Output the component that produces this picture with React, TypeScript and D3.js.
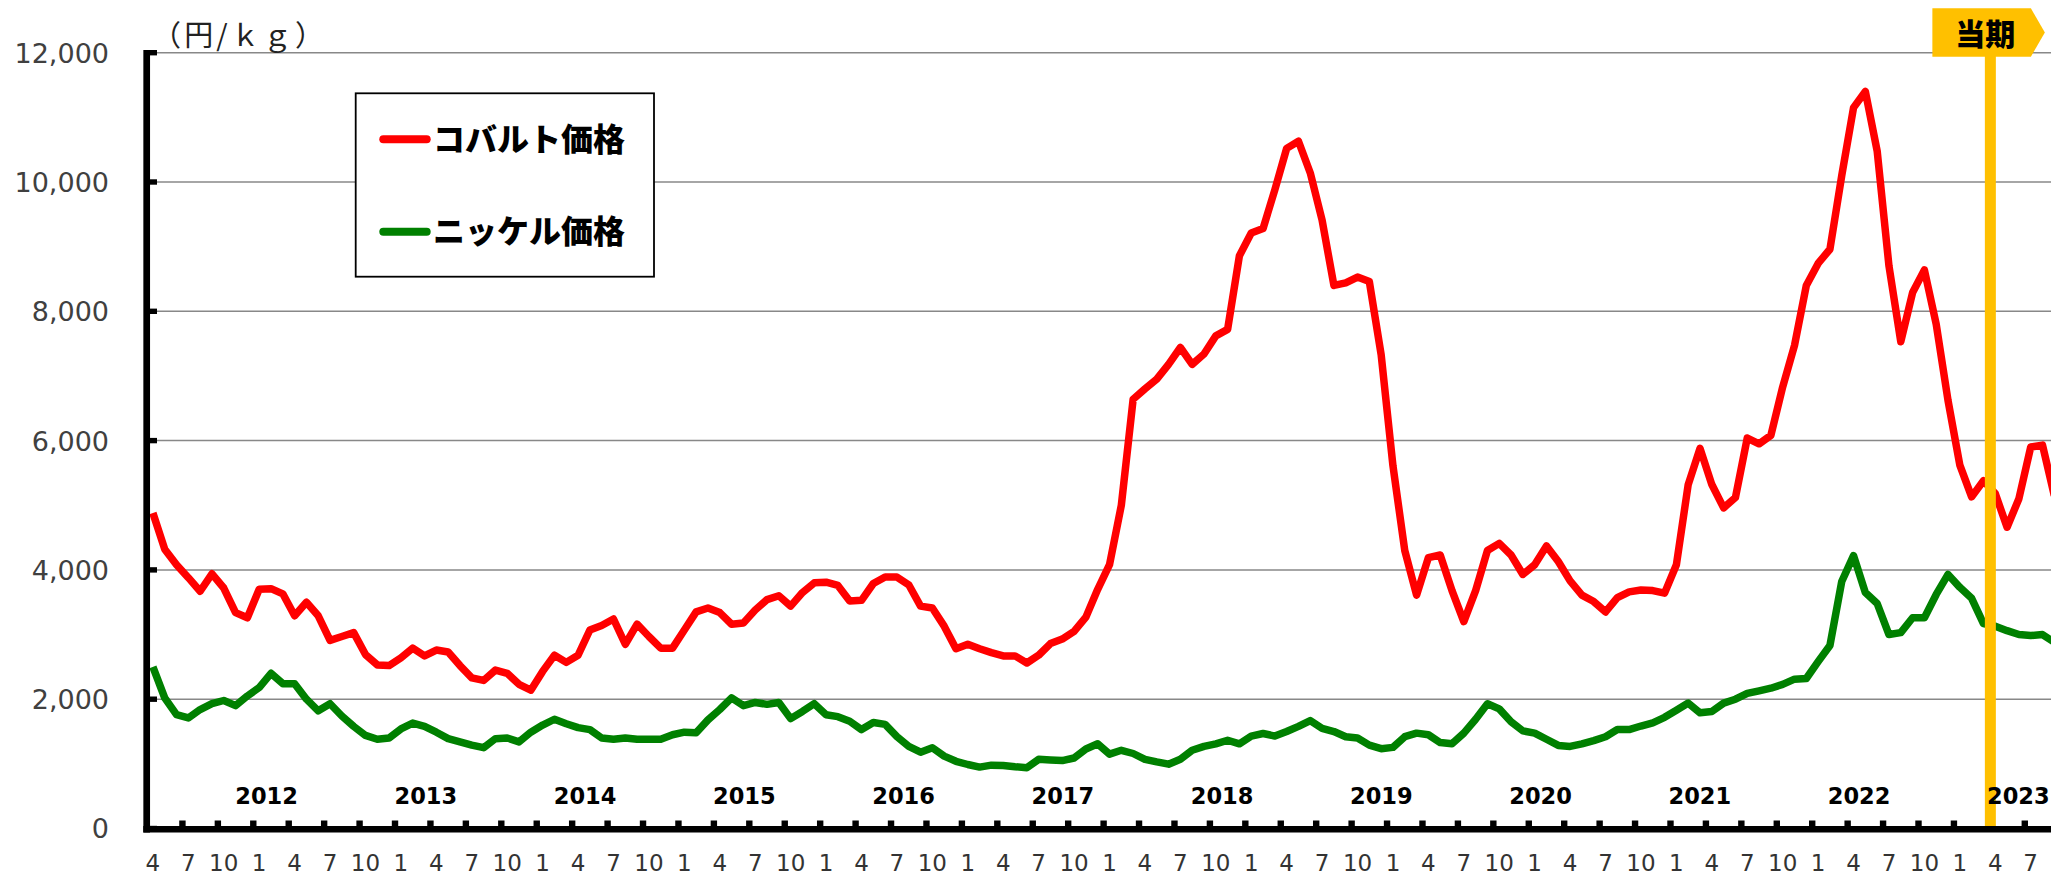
import React from "react";
import * as d3 from "d3";

// monthly prices (yen/kg), first point = April, 162 months
const cobalt = [
  4880, 4320, 4080, 3880, 3670, 3940, 3720, 3340, 3260, 3700, 3710, 3630,
  3290, 3500, 3290, 2910, 2970, 3030, 2690, 2530, 2520, 2640, 2790, 2670,
  2760, 2730, 2520, 2330, 2290, 2450, 2400, 2230, 2140, 2430, 2680, 2570,
  2680, 3070, 3140, 3240, 2850, 3160, 2970, 2790, 2790, 3070, 3350, 3410,
  3340, 3160, 3180, 3380, 3540, 3600, 3440, 3650, 3800, 3810, 3760, 3520,
  3530, 3790, 3890, 3890, 3770, 3440, 3410, 3130, 2780, 2850, 2780, 2720,
  2670, 2670, 2560, 2680, 2860, 2930, 3050, 3270, 3700, 4080, 5000, 6640,
  6800, 6950, 7180, 7440, 7180, 7340, 7620, 7720, 8860, 9210, 9280, 9880,
  10520, 10630, 10140, 9410, 8400, 8440, 8530, 8460, 7330, 5610, 4300, 3610,
  4190, 4230, 3680, 3200, 3680, 4300, 4410, 4230, 3930, 4080, 4370, 4130,
  3830, 3610, 3510, 3350, 3570, 3660, 3690, 3680, 3640, 4080, 5320, 5880,
  5320, 4960, 5120, 6040, 5950, 6080, 6830, 7470, 8400, 8740, 8960, 10100,
  11150, 11400, 10480, 8700, 7530, 8290, 8640, 7800, 6620, 5620, 5130, 5380,
  5180, 4660, 5100, 5900, 5930, 5150,
];

const nickel = [
  2500, 2020, 1760, 1710, 1840, 1930, 1980, 1900, 2050, 2180, 2400, 2240,
  2240, 2000, 1820, 1930, 1740, 1580, 1440, 1380, 1400, 1540, 1630, 1580,
  1490, 1390, 1340, 1290, 1250, 1390, 1400, 1340, 1490, 1600, 1690, 1620,
  1560, 1530, 1400, 1380, 1400, 1380, 1380, 1380, 1450, 1490, 1480, 1680,
  1840, 2020, 1900, 1950, 1920, 1950, 1700, 1810, 1930, 1760, 1730, 1660,
  1530, 1640, 1610, 1420, 1270, 1180, 1250, 1120, 1040, 990, 950, 980,
  975, 955, 940, 1070, 1060, 1050, 1090, 1230, 1310, 1150, 1210, 1160,
  1070, 1030, 995, 1070, 1210, 1270, 1310, 1365, 1310, 1430, 1470, 1430,
  1500, 1580, 1670, 1550, 1500, 1420, 1400, 1290, 1235, 1255, 1420, 1475,
  1450, 1330, 1310, 1475, 1690, 1930, 1850, 1650, 1510, 1475, 1380, 1285,
  1270, 1310, 1360, 1420, 1530, 1530, 1585, 1635, 1720, 1830, 1940, 1790,
  1810, 1940, 2000, 2090, 2130, 2170, 2230, 2310, 2320, 2580, 2830, 3820,
  4220, 3650, 3480, 3000, 3030, 3260, 3260, 3620, 3930, 3730, 3560, 3170,
  3130, 3060, 3000, 2985, 3000, 2880,
];

const months = d3.range(cobalt.length).map((i) => ((3 + i) % 12) + 1);
const yearLabels = [2012, 2013, 2014, 2015, 2016, 2017, 2018, 2019, 2020, 2021, 2022, 2023];
const yTicks = [0, 2000, 4000, 6000, 8000, 10000, 12000];
const currentIndex = 156; // 当期 marker sits at the start of this month
const legendItems = [
  { name: "コバルト価格", color: "#ff0000" },
  { name: "ニッケル価格", color: "#008000" },
];

const W = 2051;
const H = 873;

export default function App() {
  const x = d3.scaleLinear().domain([0, 162]).range([147, 147 + 162 * 11.81]);
  const y = d3.scaleLinear().domain([0, 12000]).range([828.5, 52.7]);
  const yearX = d3.scaleLinear().domain([2012, 2023]).range([266.6, 2018.3]);

  const line = d3
    .line<number>()
    .x((_, i) => x(i + 0.5))
    .y((d) => y(d));

  const tickIdx = months.map((_, i) => i).filter((i) => i % 3 === 0);
  const font = "'DejaVu Sans', Verdana, sans-serif";
  const jp = "'Noto Sans CJK JP', sans-serif";

  return (
    <svg
      width={W}
      height={H}
      style={{ position: "absolute", left: 0, top: 0, background: "#fff" }}
    >
      <rect width={W} height={H} fill="#fff" />

      {/* gridlines */}
      {yTicks.slice(1).map((t) => (
        <line key={t} x1={147} x2={W} y1={y(t)} y2={y(t)} stroke="#888" strokeWidth={1.5} />
      ))}

      {/* y labels */}
      {yTicks.map((t) => (
        <text
          key={t}
          x={109}
          y={y(t) + 9.9}
          textAnchor="end"
          fontFamily={font}
          fontSize={27}
          fill="#404040"
        >
          {d3.format(",")(t)}
        </text>
      ))}

      <text x={152} y={46} fontFamily={jp} fontSize={29} fill="#222" textLength={172} lengthAdjust="spacing">
        （円/ｋｇ）
      </text>

      {/* series */}
      <path d={line(nickel) || ""} fill="none" stroke="#008000" strokeWidth={7.5} strokeLinejoin="round" />
      <path d={line(cobalt) || ""} fill="none" stroke="#ff0000" strokeWidth={7.5} strokeLinejoin="round" />

      {/* axes */}
      <line x1={146.7} x2={146.7} y1={50} y2={832.5} stroke="#000" strokeWidth={6.7} />
      <line x1={143.3} x2={W} y1={829.3} y2={829.3} stroke="#000" strokeWidth={6.5} />
      {yTicks.map((t) => (
        <rect key={t} x={146} y={y(t) - 2.7} width={11} height={5.4} fill="#000" />
      ))}
      {tickIdx
        .filter((i) => i > 0)
        .map((i) => (
          <rect key={i} x={x(i) - 3.2} y={820.5} width={6.4} height={7} fill="#000" />
        ))}

      {/* month labels */}
      {tickIdx.map((i) => (
        <text
          key={i}
          x={x(i + 0.5)}
          y={871}
          textAnchor="middle"
          fontFamily={font}
          fontSize={23}
          fill="#333"
        >
          {months[i]}
        </text>
      ))}

      {/* 当期 marker */}
      <line
        x1={x(currentIndex) + 1}
        x2={x(currentIndex) + 1}
        y1={56}
        y2={826}
        stroke="#ffc000"
        strokeWidth={11}
      />
      <path
        d={`M${x(currentIndex) - 57},8.3 H${x(currentIndex) + 41.5} L${x(currentIndex) + 55.5},32.5 L${x(currentIndex) + 41.5},56.7 H${x(currentIndex) - 57} Z`}
        fill="#ffc000"
      />
      <text
        x={x(currentIndex) - 4}
        y={44.5}
        textAnchor="middle"
        fontFamily={jp}
        fontWeight={900}
        fontSize={30}
        fill="#000"
      >
        当期
      </text>

      {/* year labels */}
      {yearLabels.map((yr) => (
        <text
          key={yr}
          x={yearX(yr)}
          y={804}
          textAnchor="middle"
          fontFamily={font}
          fontWeight="bold"
          fontSize={22.5}
          fill="#000"
        >
          {yr}
        </text>
      ))}

      {/* legend */}
      <rect x={355.7} y={93.3} width={298.3} height={183.4} fill="#fff" stroke="#000" strokeWidth={1.8} />
      {legendItems.map((d, i) => (
        <g key={d.name} transform={`translate(0, ${139.3 + i * 92.4})`}>
          <line x1={383.3} x2={426.7} y1={0} y2={0} stroke={d.color} strokeWidth={8} strokeLinecap="round" />
          <text x={433} y={11.5} fontFamily={jp} fontWeight={900} fontSize={32} fill="#000">
            {d.name}
          </text>
        </g>
      ))}
    </svg>
  );
}
